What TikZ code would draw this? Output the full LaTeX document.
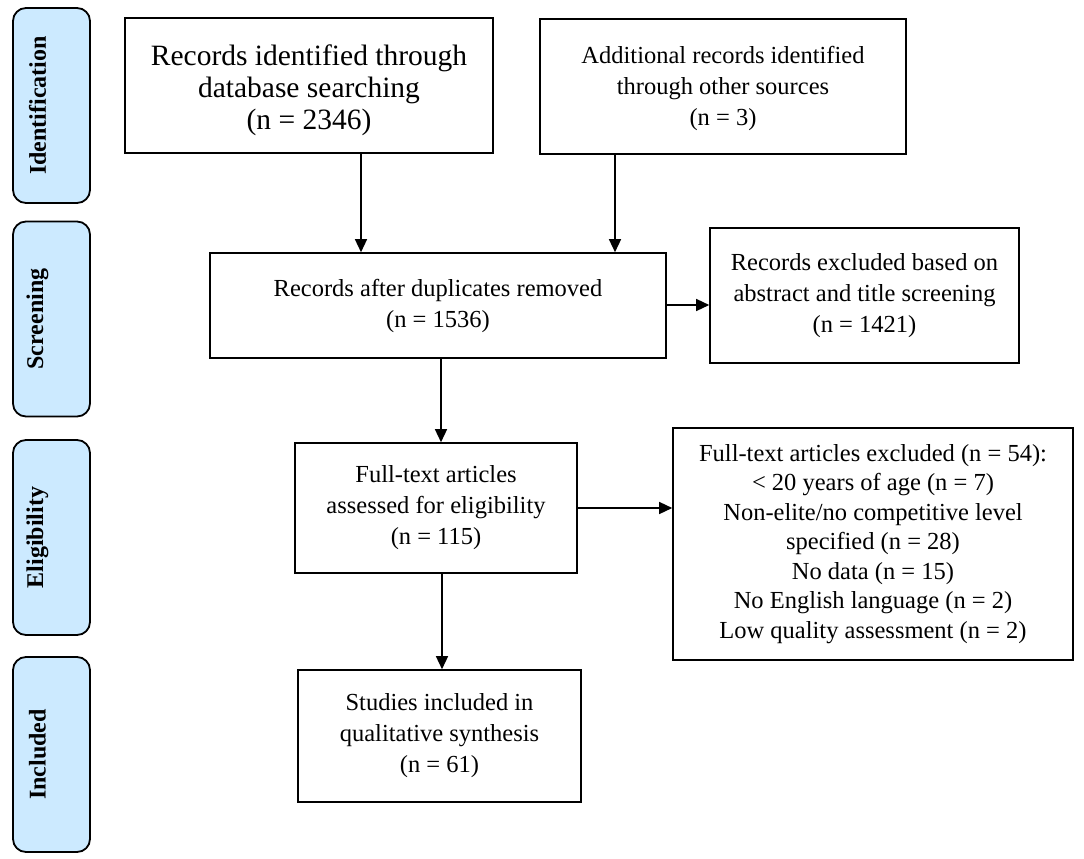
\documentclass[tikz,border=0pt]{standalone}
\usepackage{fontspec}
\setmainfont{Liberation Serif}
\usetikzlibrary{arrows.meta}
\definecolor{sidefill}{RGB}{204,234,255}
\tikzset{
  box/.style={draw=black, line width=1.6pt, align=center, inner sep=4pt,
    font=\fontsize{24.5}{31}\selectfont},
  side/.style={draw=black, line width=1.8pt, fill=sidefill, rounded corners=13pt,
    minimum width=77pt, minimum height=195pt, inner sep=0pt},
  sidetext/.style={rotate=90, inner sep=0pt, font=\fontsize{24}{28}\selectfont\bfseries},
  arr/.style={line width=1.4pt, -{Triangle[length=13pt,width=12pt]}}
}
\begin{document}
\begin{tikzpicture}[x=1pt,y=-1pt]
\useasboundingbox (0,0) rectangle (1084,859);
% side labels
\node[side] (sid) at (51.5,105.5) {};
\node[side] (ssc) at (51.5,319) {};
\node[side] (sel) at (51.5,537.5) {};
\node[side] (sin) at (51.5,754.5) {};
\node[sidetext] (tid) at ([xshift=-14pt]sid.center) {Identification};
\node[sidetext] (tsc) at ([xshift=-14pt]ssc.center) {Screening};
\node[sidetext] (tel) at ([xshift=-14pt]sel.center) {Eligibility};
\node[sidetext] (tin) at ([xshift=-14pt]sin.center) {Included};
% boxes
\node[box, minimum width=368pt, minimum height=135pt] (b1) at (309,85.5) {};
\node[font=\fontsize{29.5}{32}\selectfont, align=center] (t1) at ([yshift=-5pt]b1.center)
  {Records identified through\\database searching\\(n = 2346)};
\node[box, minimum width=366pt, minimum height=135pt] (b2) at (723,86.5) {};
\node[font=\fontsize{24.5}{31}\selectfont, align=center] (t2) at ([yshift=-2pt]b2.center)
  {Additional records identified\\through other sources\\(n = 3)};
\node[box, minimum width=456pt, minimum height=105pt] (b3) at (438,305.5)
  {Records after duplicates removed\\(n = 1536)};
\node[box, minimum width=309pt, minimum height=135pt] (b4) at (864.5,295.5)
  {Records excluded based on\\abstract and title screening\\(n = 1421)};
\node[box, minimum width=282pt, minimum height=130pt] (b5) at (436,508)
  {Full-text articles\\assessed for eligibility\\(n = 115)};
\node[box, minimum width=400pt, minimum height=232pt, font=\fontsize{24.5}{29.5}\selectfont] (b6) at (873,544)
  {Full-text articles excluded (n = 54):\\{<} 20 years of age (n = 7)\\Non-elite/no competitive level\\specified (n = 28)\\No data (n = 15)\\No English language (n = 2)\\Low quality assessment (n = 2)};
\node[box, minimum width=283pt, minimum height=132pt] (b7) at (439.5,736)
  {Studies included in\\qualitative synthesis\\(n = 61)};
% arrow guide coordinates
\coordinate (a1) at (361,0);
\coordinate (a2) at (615,0);
\coordinate (a3) at (441,0);
\coordinate (a4) at (442,0);
\coordinate (h1) at (0,305);
\coordinate (h2) at (0,508);
\draw[arr] (b1.south -| a1) -- (b3.north -| a1);
\draw[arr] (b2.south -| a2) -- (b3.north -| a2);
\draw[arr] (b3.south -| a3) -- (b5.north -| a3);
\draw[arr] (b5.south -| a4) -- (b7.north -| a4);
\draw[arr] (b3.east |- h1) -- (b4.west |- h1);
\draw[arr] (b5.east |- h2) -- (b6.west |- h2);
\end{tikzpicture}
\end{document}
